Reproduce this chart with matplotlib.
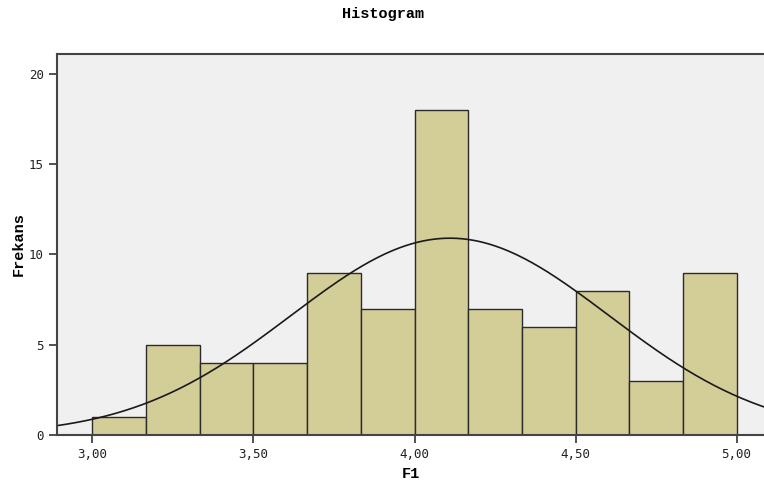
import matplotlib
matplotlib.use("Agg")
import matplotlib.pyplot as plt
import numpy as np

# histogram of F1 (SPSS style)
bin_edges = np.linspace(3.0, 5.0, 13)
counts = [1, 5, 4, 4, 9, 7, 18, 7, 6, 8, 3, 9]
curve_mean = 4.11
curve_sd = 0.494

x_ticks = [3.0, 3.5, 4.0, 4.5, 5.0]
x_labels = ["3,00", "3,50", "4,00", "4,50", "5,00"]
y_ticks = [0, 5, 10, 15, 20]

fig = plt.figure(figsize=(7.64, 4.83), dpi=100)
ax = fig.add_axes([0.0746, 0.0994, 0.9254, 0.7886])
ax.set_facecolor("#f0f0f0")

widths = np.diff(bin_edges)
ax.bar(bin_edges[:-1], counts, width=widths, align="edge",
       facecolor="#d3cd98", edgecolor="#2b2b2b", linewidth=1.0)

# normal curve scaled to counts
n = sum(counts)
xs = np.linspace(2.85, 5.15, 400)
ys = n * widths[0] / (curve_sd * np.sqrt(2 * np.pi)) * \
    np.exp(-(xs - curve_mean) ** 2 / (2 * curve_sd ** 2))
ax.plot(xs, ys, color="#1a1a1a", linewidth=1.2)

ax.set_xlim(2.89, 5.085)
ax.set_ylim(0, 21.1)
ax.set_xticks(x_ticks)
ax.set_xticklabels(x_labels)
ax.set_yticks(y_ticks)
ax.tick_params(direction="out", length=6, width=1.2, color="#333333",
               labelsize=9, labelcolor="#222222")
for lab in ax.get_xticklabels() + ax.get_yticklabels():
    lab.set_family("DejaVu Sans Mono")

for side in ["left", "bottom", "top"]:
    ax.spines[side].set_color("#444444")
    ax.spines[side].set_linewidth(1.5)
ax.spines["right"].set_visible(False)

ax.set_xlabel("F1", family="Liberation Mono", fontweight="bold", fontsize=11,
              labelpad=4)
ax.set_ylabel("Frekans", family="Liberation Mono", fontweight="bold",
              fontsize=11, labelpad=2)
fig.text(0.502, 0.972, "Histogram", family="Liberation Mono",
         fontweight="bold", fontsize=11, ha="center", va="center")

fig.savefig("out.png", dpi=100)
